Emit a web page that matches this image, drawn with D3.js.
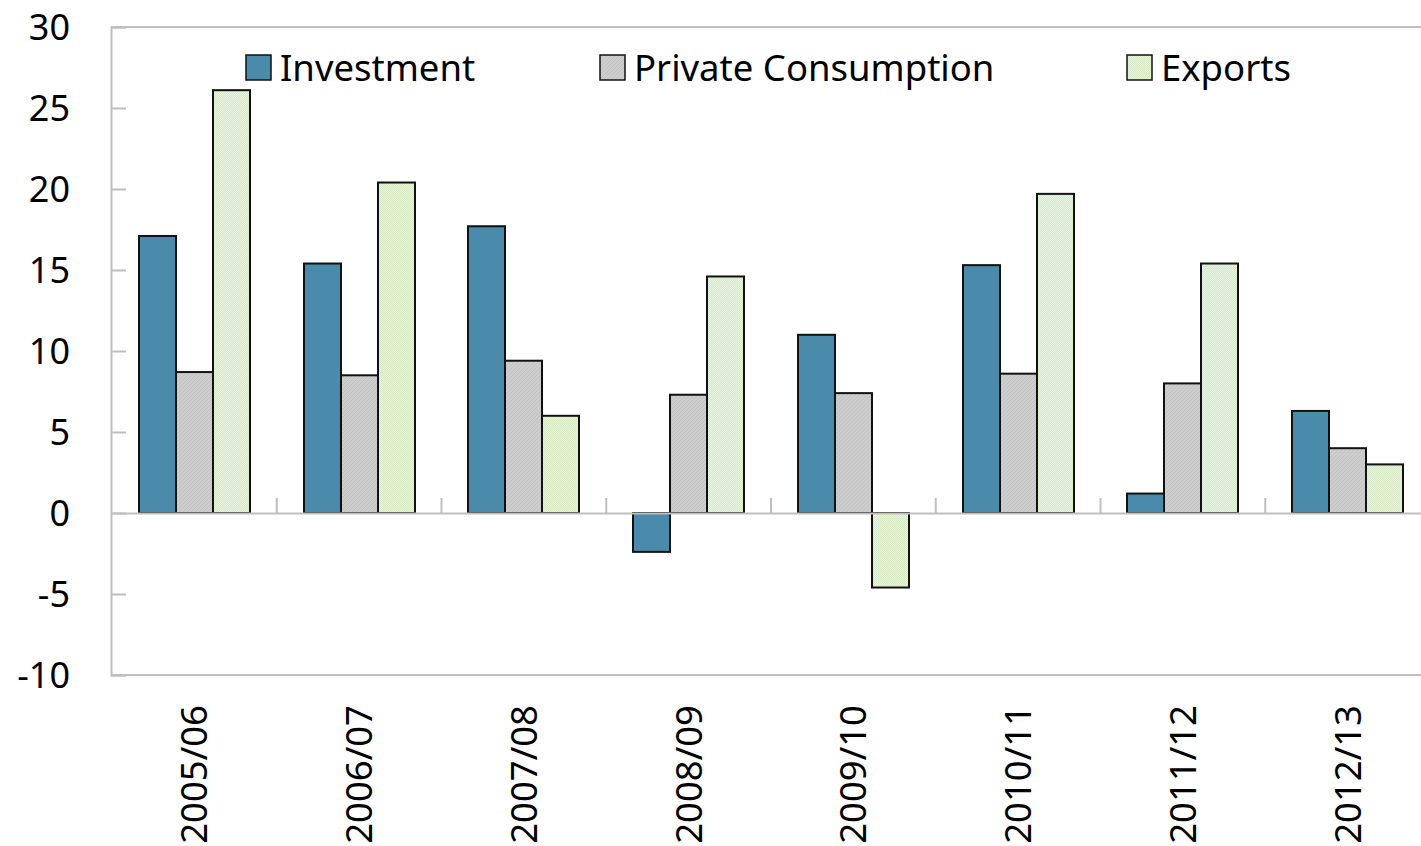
<!DOCTYPE html>
<html>
<head>
<meta charset="utf-8">
<script src="https://cdn.jsdelivr.net/npm/d3@7"></script>
<style>
  html, body { margin: 0; padding: 0; background: #fff; }
  svg { display: block; font-family: "Noto Sans", "Open Sans", sans-serif; }
</style>
</head>
<body>
<svg id="chart" width="1421" height="846"></svg>
<script>
// Annual growth (%) by fiscal year
const years = ["2005/06", "2006/07", "2007/08", "2008/09", "2009/10", "2010/11", "2011/12", "2012/13"];
const investment = [17.1, 15.4, 17.7, -2.4, 11.0, 15.3, 1.2, 6.3];
const privateConsumption = [8.7, 8.5, 9.4, 7.3, 7.4, 8.6, 8.0, 4.0];
const exportsGrowth = [26.1, 20.4, 6.0, 14.6, -4.6, 19.7, 15.4, 3.0];
const yTicks = [-10, -5, 0, 5, 10, 15, 20, 25, 30];
const seriesNames = ["Investment", "Private Consumption", "Exports"];

const series = [
  { name: seriesNames[0], values: investment, fill: "#4a8aab" },
  { name: seriesNames[1], values: privateConsumption, fill: "url(#pat-gray)" },
  { name: seriesNames[2], values: exportsGrowth, fill: "url(#pat-green)" }
];

const svg = d3.select("#chart");
const margin = { left: 111, top: 27, bottom: 675 };
const plotRight = 1430;

// Fill patterns (subtle textures)
const defs = svg.append("defs");
const pg = defs.append("pattern").attr("id", "pat-gray")
  .attr("patternUnits", "userSpaceOnUse").attr("width", 4).attr("height", 4);
pg.append("rect").attr("width", 4).attr("height", 4).attr("fill", "#cdcdcd");
pg.append("path").attr("d", "M0,4 L4,0").attr("stroke", "#c2c2c2").attr("stroke-width", 1);

const pgr = defs.append("pattern").attr("id", "pat-green")
  .attr("patternUnits", "userSpaceOnUse").attr("width", 2).attr("height", 2);
pgr.append("rect").attr("width", 2).attr("height", 2).attr("fill", "#e9f3df");
pgr.append("rect").attr("width", 1).attr("height", 1).attr("fill", "#d6e9c5");
pgr.append("rect").attr("x", 1).attr("y", 1).attr("width", 1).attr("height", 1).attr("fill", "#d6e9c5");

const y = d3.scaleLinear().domain([-10, 30]).range([margin.bottom, margin.top]);
const x = d3.scaleBand().domain(years).range([margin.left + 1, plotRight]).padding(0);
const barW = 37;
const xs = d3.scaleBand().domain(d3.range(series.length))
  .range([0, barW * series.length]);

const axisColor = "#bfbfbf";

// Plot frame
svg.append("line").attr("x1", margin.left).attr("x2", 1421)
  .attr("y1", margin.top).attr("y2", margin.top)
  .attr("stroke", axisColor).attr("stroke-width", 2);
svg.append("line").attr("x1", margin.left).attr("x2", 1421)
  .attr("y1", margin.bottom).attr("y2", margin.bottom)
  .attr("stroke", axisColor).attr("stroke-width", 2);

// Y axis with inward ticks
const yAxis = d3.axisRight(y).tickValues(yTicks).tickSize(15).tickFormat("");
const gy = svg.append("g").attr("transform", `translate(${margin.left},0)`).call(yAxis);
gy.select(".domain").attr("stroke", axisColor).attr("stroke-width", 2);
gy.selectAll(".tick line").attr("stroke", axisColor).attr("stroke-width", 2);

svg.append("g").selectAll("text").data(yTicks).join("text")
  .attr("x", 70).attr("y", d => y(d))
  .attr("dy", "0.36em")
  .attr("text-anchor", "end")
  .attr("font-size", 36)
  .attr("fill", "#000")
  .text(d => d);

// Bars
const groups = svg.append("g").selectAll("g").data(years).join("g")
  .attr("transform", d => `translate(${Math.round(x(d) + (x.bandwidth() - barW * series.length) / 2)},0)`);

groups.each(function (yr, i) {
  d3.select(this).selectAll("rect").data(series).join("rect")
    .attr("x", (s, j) => xs(j))
    .attr("width", xs.bandwidth())
    .attr("y", s => y(Math.max(0, s.values[i])))
    .attr("height", s => Math.abs(y(s.values[i]) - y(0)))
    .attr("fill", s => s.fill)
    .attr("stroke", "#111")
    .attr("stroke-width", 2);
});

// Category axis at zero
const xAxis = d3.axisTop(x).tickSize(0).tickFormat("");
const gx = svg.append("g").attr("transform", `translate(0,${y(0)})`).call(xAxis);
gx.select(".domain").attr("stroke", axisColor).attr("stroke-width", 2);
gx.selectAll(".tick").remove();
gx.selectAll("line.sep").data(years.slice(1)).join("line").attr("class", "sep")
  .attr("x1", d => x(d)).attr("x2", d => x(d))
  .attr("y1", 0).attr("y2", -15)
  .attr("stroke", axisColor).attr("stroke-width", 2);

// Rotated category labels
svg.append("g").selectAll("text").data(years).join("text")
  .attr("transform", d => `translate(${x(d) + x.bandwidth() / 2 + 13},705) rotate(-90)`)
  .attr("text-anchor", "end")
  .attr("font-size", 36.5)
  .attr("fill", "#000")
  .text(d => d);

// Legend
const legendX = [246, 600, 1127];
const lg = svg.append("g").selectAll("g").data(series).join("g")
  .attr("transform", (d, i) => `translate(${legendX[i]},55)`);
lg.append("rect").attr("width", 25).attr("height", 25)
  .attr("fill", d => d.fill).attr("stroke", "#111").attr("stroke-width", 1.5);
lg.append("text").attr("x", 34).attr("y", 12.5).attr("dy", "0.36em")
  .attr("font-size", 36.5).attr("fill", "#000")
  .text(d => d.name);
</script>
</body>
</html>
